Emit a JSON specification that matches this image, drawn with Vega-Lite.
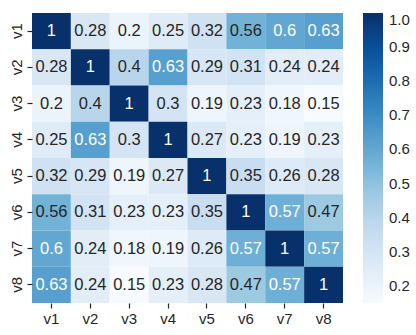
{
  "$schema": "https://vega.github.io/schema/vega-lite/v6.json",
  "width": 311,
  "height": 290,
  "autosize": {"type": "none"},
  "padding": {"left": 32, "top": 13, "right": 73, "bottom": 32},
  "background": "white",
  "config": {
    "view": {"stroke": null},
    "font": "Liberation Sans",
    "axis": {"domain": false, "grid": false, "tickColor": "#262626", "tickSize": 5, "tickWidth": 1.2, "labelColor": "#262626", "labelFontSize": 15, "labelFont": "Liberation Sans", "title": null, "labelPadding": 3},
    "legend": {"labelFont": "Liberation Sans", "labelFontSize": 15, "labelColor": "#262626"}
  },
  "data": {"values": [
    {"a":"v1","b":"v1","r":1},{"a":"v1","b":"v2","r":0.28},{"a":"v1","b":"v3","r":0.2},{"a":"v1","b":"v4","r":0.25},{"a":"v1","b":"v5","r":0.32},{"a":"v1","b":"v6","r":0.56},{"a":"v1","b":"v7","r":0.6},{"a":"v1","b":"v8","r":0.63},
    {"a":"v2","b":"v1","r":0.28},{"a":"v2","b":"v2","r":1},{"a":"v2","b":"v3","r":0.4},{"a":"v2","b":"v4","r":0.63},{"a":"v2","b":"v5","r":0.29},{"a":"v2","b":"v6","r":0.31},{"a":"v2","b":"v7","r":0.24},{"a":"v2","b":"v8","r":0.24},
    {"a":"v3","b":"v1","r":0.2},{"a":"v3","b":"v2","r":0.4},{"a":"v3","b":"v3","r":1},{"a":"v3","b":"v4","r":0.3},{"a":"v3","b":"v5","r":0.19},{"a":"v3","b":"v6","r":0.23},{"a":"v3","b":"v7","r":0.18},{"a":"v3","b":"v8","r":0.15},
    {"a":"v4","b":"v1","r":0.25},{"a":"v4","b":"v2","r":0.63},{"a":"v4","b":"v3","r":0.3},{"a":"v4","b":"v4","r":1},{"a":"v4","b":"v5","r":0.27},{"a":"v4","b":"v6","r":0.23},{"a":"v4","b":"v7","r":0.19},{"a":"v4","b":"v8","r":0.23},
    {"a":"v5","b":"v1","r":0.32},{"a":"v5","b":"v2","r":0.29},{"a":"v5","b":"v3","r":0.19},{"a":"v5","b":"v4","r":0.27},{"a":"v5","b":"v5","r":1},{"a":"v5","b":"v6","r":0.35},{"a":"v5","b":"v7","r":0.26},{"a":"v5","b":"v8","r":0.28},
    {"a":"v6","b":"v1","r":0.56},{"a":"v6","b":"v2","r":0.31},{"a":"v6","b":"v3","r":0.23},{"a":"v6","b":"v4","r":0.23},{"a":"v6","b":"v5","r":0.35},{"a":"v6","b":"v6","r":1},{"a":"v6","b":"v7","r":0.57},{"a":"v6","b":"v8","r":0.47},
    {"a":"v7","b":"v1","r":0.6},{"a":"v7","b":"v2","r":0.24},{"a":"v7","b":"v3","r":0.18},{"a":"v7","b":"v4","r":0.19},{"a":"v7","b":"v5","r":0.26},{"a":"v7","b":"v6","r":0.57},{"a":"v7","b":"v7","r":1},{"a":"v7","b":"v8","r":0.57},
    {"a":"v8","b":"v1","r":0.63},{"a":"v8","b":"v2","r":0.24},{"a":"v8","b":"v3","r":0.15},{"a":"v8","b":"v4","r":0.23},{"a":"v8","b":"v5","r":0.28},{"a":"v8","b":"v6","r":0.47},{"a":"v8","b":"v7","r":0.57},{"a":"v8","b":"v8","r":1}
  ]},
  "encoding": {
    "x": {"field": "b", "type": "nominal", "sort": null, "scale": {"paddingInner": 0, "paddingOuter": 0}, "axis": {"labelAngle": 0}},
    "y": {"field": "a", "type": "nominal", "sort": null, "scale": {"paddingInner": 0, "paddingOuter": 0}, "axis": {"labelAngle": 270}}
  },
  "layer": [
    {
      "mark": {"type": "rect", "strokeWidth": 0},
      "encoding": {
        "color": {
          "field": "r", "type": "quantitative",
          "scale": {
            "domain": [0.15, 0.25625, 0.3625, 0.46875, 0.575, 0.68125, 0.7875, 0.89375, 1.0],
            "range": ["#f7fbff", "#deebf7", "#c6dbef", "#9ecae1", "#6baed6", "#4292c6", "#2171b5", "#08519c", "#08306b"]
          },
          "legend": {
            "title": null, "orient": "right", "offset": 20, "type": "gradient",
            "gradientLength": 290, "gradientThickness": 20, "gradientStrokeWidth": 0,
            "values": [0.2, 0.3, 0.4, 0.5, 0.6, 0.7, 0.8, 0.9, 1.0],
            "format": ".1f", "labelOffset": 6, "labelBaseline": "middle",
            "labelFontSize": 15, "labelColor": "#262626", "labelFont": "Liberation Sans"
          }
        }
      }
    },
    {
      "mark": {"type": "text", "fontSize": 16.5, "font": "Liberation Sans"},
      "encoding": {
        "text": {"field": "r", "type": "quantitative"},
        "color": {"condition": {"test": "datum.r > 0.565", "value": "white"}, "value": "#262626"}
      }
    }
  ]
}
